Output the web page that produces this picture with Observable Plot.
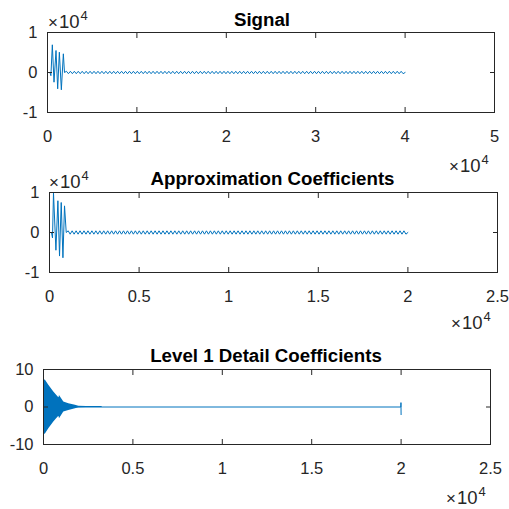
<!DOCTYPE html>
<html>
<head>
<meta charset="utf-8">
<script src="https://cdn.jsdelivr.net/npm/d3@7"></script>
<script src="https://cdn.jsdelivr.net/npm/@observablehq/plot@0.6"></script>
<style>
  html, body { margin: 0; padding: 0; background: #fff; }
  #fig { position: relative; width: 509px; height: 509px; overflow: hidden; background: #fff;
         font-family: "Liberation Sans", Arial, Helvetica, sans-serif; }
  .panel { position: absolute; left: 0; }
  .title { position: absolute; font-weight: bold; font-size: 18.7px; line-height: 1; color: #000;
           white-space: nowrap; transform: translateX(-50%); }
  .expo { position: absolute; font-size: 18.5px; line-height: 1; color: #262626; white-space: nowrap; }
  .expo .x { font-size: 17px; margin-right: 1px; }
  .expo sup { font-size: 13px; position: relative; top: -0.62em; vertical-align: baseline; margin-left: 1px; }
</style>
</head>
<body>
<div id="fig"></div>
<script>
// ---- Signal: opening burst (sample index, amplitude) ----
const signalBurstX = [0, 280, 380, 541, 728, 952, 1139, 1325, 1549, 1773, 1900];
const signalBurstY = [0, 0, -800, 6925, -2425, 5500, -4075, 5075, -4325, 4675, 0];
// Signal: steady low-level ripple after the burst, one value per extremum
const signalTailStart = 1900;
const signalTailEnd = 40000;
const signalTail = [
  300,-300,300,-300,300,-300,300,-300,300,-300,300,-300,300,-300,300,-300,300,-300,300,-300,
  300,-300,300,-300,300,-300,300,-300,300,-300,300,-300,300,-300,300,-300,300,-300,300,-300,
  300,-300,300,-300,300,-300,300,-300,300,-300,300,-300,300,-300,300,-300,300,-300,300,-300,
  300,-300,300,-300,300,-300,300,-300,300,-300,300,-300,300,-300,300,-300,300,-300,300,-300,
  300,-300,300,-300,300,-300,300,-300,300,-300,300,-300,300,-300,300,-300,300,-300,300,-300,
  300,-300,300,-300,300,-300,300,-300,300,-300,300,-300,300,-300,300,-300,300,-300,300,-300,
  300,-300,300,-300,300,-300,300,-300,300,-300,300,-300,300,-300,300,-300,300,-300,300,-300,
  300,-300,300,-300,300,-300,300,-300,300,-300,300,-300,300,-300,300,-300,300,-300,300,-300,
  300,-300,300,-300,300,-300,300,-300,300,-300,300,-300,0
];

// ---- Approximation coefficients ----
const approxBurstX = [0, 110, 168, 223, 358, 469, 559, 654, 749, 838, 933];
const approxBurstY = [0, 0, -1360, 9900, -4430, 7940, -5890, 7500, -6320, 6660, 0];
const approxTailStart = 933;
const approxTailEnd = 20000;
const approxTail = [
  420,-420,420,-420,420,-420,420,-420,420,-420,420,-420,420,-420,420,-420,420,-420,420,-420,
  420,-420,420,-420,420,-420,420,-420,420,-420,420,-420,420,-420,420,-420,420,-420,420,-420,
  420,-420,420,-420,420,-420,420,-420,420,-420,420,-420,420,-420,420,-420,420,-420,420,-420,
  420,-420,420,-420,420,-420,420,-420,420,-420,420,-420,420,-420,420,-420,420,-420,420,-420,
  420,-420,420,-420,420,-420,420,-420,420,-420,420,-420,420,-420,420,-420,420,-420,420,-420,
  420,-420,420,-420,420,-420,420,-420,420,-420,420,-420,420,-420,420,-420,420,-420,420,-420,
  420,-420,420,-420,420,-420,420,-420,420,-420,420,-420,420,-420,420,-420,420,-420,420,-420,
  420,-420,420,-420,420,-420,420,-420,420,-420,420,-420,420,-420,420,-420,420,-420,420,-420,
  420,-420,420,-420,420,-420,420,-420,420,-420,420,-420,0
];

// ---- Level 1 detail coefficients ----
// envelope of the dense oscillation (sample index, half-amplitude)
const detailEnvX = [30, 90, 296, 576, 818, 870, 893, 1135, 1414, 1787, 1973, 2400, 3280];
const detailEnv  = [6.9, 7.3, 5.8, 4.0, 2.67, 2.5, 3.1, 1.33, 0.9, 0.44, 0.18, 0.15, 0.12];
// baseline trace with the end-of-record spike
const detailLineX = [0, 19985, 19992, 20000];
const detailLineY = [0, 0, 1.17, -2.03];

// ---- tick values ----
const signalXTicks = [0, 10000, 20000, 30000, 40000, 50000];
const coefXTicks = [0, 5000, 10000, 15000, 20000, 25000];
const signalYTicks = [-10000, 0, 10000];
const detailYTicks = [-10, 0, 10];

const blue = "#0072BD";
const ink = "#262626";

function pairs(xs, ys) { return xs.map((x, i) => ({x, y: ys[i]})); }
function withTail(burst, start, end, tail) {
  const step = (end - start) / tail.length;
  return burst.concat(tail.map((y, i) => ({x: start + (i + 1) * step, y})));
}

const signalData = withTail(pairs(signalBurstX, signalBurstY), signalTailStart, signalTailEnd, signalTail);
const approxData = withTail(pairs(approxBurstX, approxBurstY), approxTailStart, approxTailEnd, approxTail);
const envData = detailEnvX.map((x, i) => ({x, lo: -detailEnv[i], hi: detailEnv[i]}));
const detailData = pairs(detailLineX, detailLineY);

const fmt1e4 = d => String(d / 1e4);
const fmtPlain = d => String(d);
const blank = () => "";

function panel({xDomain, xTicks, yDomain, yTicks, yFormat, margin, height, marks}) {
  return Plot.plot({
    width: 509,
    height,
    marginTop: margin[0], marginRight: margin[1], marginBottom: margin[2], marginLeft: margin[3],
    style: {background: "transparent", fontSize: "16.5px",
            fontFamily: '"Liberation Sans", Arial, Helvetica, sans-serif', color: ink},
    x: {domain: xDomain},
    y: {domain: yDomain},
    marks: [
      ...marks,
      Plot.axisX({ticks: xTicks, anchor: "bottom", tickSize: -5, tickPadding: 23, tickFormat: fmt1e4, label: null, color: ink}),
      Plot.axisX({ticks: xTicks, anchor: "top", tickSize: -5, tickFormat: blank, label: null, color: ink}),
      Plot.axisY({ticks: yTicks, anchor: "left", tickSize: -5, tickPadding: 15, tickFormat: yFormat, label: null, color: ink}),
      Plot.axisY({ticks: yTicks, anchor: "right", tickSize: -5, tickFormat: blank, label: null, color: ink}),
      Plot.frame({stroke: ink})
    ]
  });
}

const p1 = panel({
  xDomain: [0, 50000], xTicks: signalXTicks,
  yDomain: [-10000, 10000], yTicks: signalYTicks, yFormat: fmt1e4,
  margin: [32, 15, 38, 47], height: 150,
  marks: [Plot.line(signalData, {x: "x", y: "y", stroke: blue, strokeWidth: 1})]
});
const p2 = panel({
  xDomain: [0, 25000], xTicks: coefXTicks,
  yDomain: [-10000, 10000], yTicks: signalYTicks, yFormat: fmt1e4,
  margin: [32, 12, 38, 49], height: 150,
  marks: [Plot.line(approxData, {x: "x", y: "y", stroke: blue, strokeWidth: 1})]
});
const p3 = panel({
  xDomain: [0, 25000], xTicks: coefXTicks,
  yDomain: [-10, 10], yTicks: detailYTicks, yFormat: fmtPlain,
  margin: [29, 19, 46, 43], height: 150,
  marks: [
    Plot.areaY(envData, {x: "x", y1: "lo", y2: "hi", fill: blue}),
    Plot.line(detailData, {x: "x", y: "y", stroke: blue, strokeWidth: 1})
  ]
});

const fig = document.getElementById("fig");
function place(node, top) {
  const wrap = document.createElement("div");
  wrap.className = "panel";
  wrap.style.top = top + "px";
  wrap.appendChild(node);
  fig.appendChild(wrap);
}
place(p1, 0);
place(p2, 160);
place(p3, 340);

// titles: centre x and baseline y
function title(text, cx, baseline) {
  const el = document.createElement("div");
  el.className = "title";
  el.textContent = text;
  el.style.left = cx + "px";
  el.style.top = (baseline - 0.85 * 18.7) + "px";
  fig.appendChild(el);
}
title("Signal", 262, 27);
title("Approximation Coefficients", 272.5, 186);
title("Level 1 Detail Coefficients", 266, 363);

// ×10^4 exponent labels: left x and baseline y
function expo(left, baseline) {
  const el = document.createElement("div");
  el.className = "expo";
  el.innerHTML = '<span class="x">\u00d7</span>10<sup>4</sup>';
  el.style.left = left + "px";
  el.style.top = (baseline - 0.85 * 18.5) + "px";
  fig.appendChild(el);
}
expo(48, 28.5);
expo(449, 173);
expo(49, 188.5);
expo(451, 330);
expo(446, 505);
</script>
</body>
</html>
